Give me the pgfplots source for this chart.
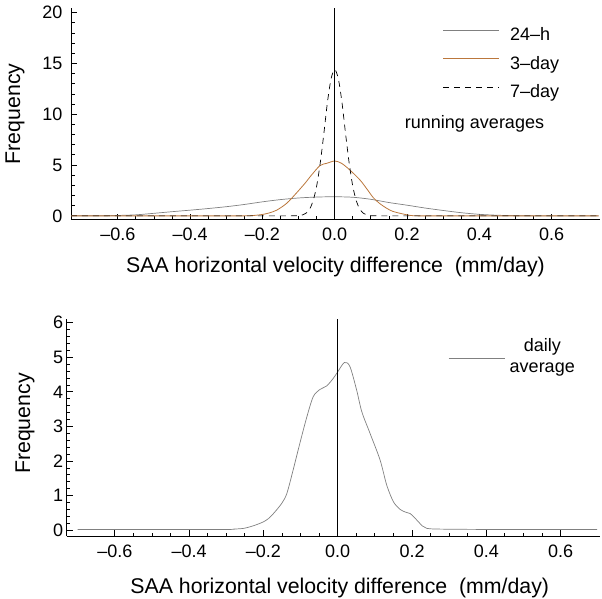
\documentclass[border=0pt]{standalone}
\usepackage{fontspec}
\setmainfont{Liberation Sans}
\usepackage{pgfplots}
\pgfplotsset{compat=1.18}

\definecolor{avggray}{RGB}{128,128,128}
\definecolor{copper}{RGB}{187,119,60}

% Kernel density estimates of the SAA horizontal velocity difference
% 24-h running average
\pgfplotstableread{
x y
-0.73 0.01
-0.65 0.01
-0.60 0.04
-0.55 0.10
-0.50 0.25
-0.45 0.41
-0.40 0.56
-0.35 0.72
-0.30 0.90
-0.25 1.12
-0.20 1.38
-0.15 1.60
-0.10 1.76
-0.05 1.85
 0.00 1.88
 0.05 1.83
 0.10 1.63
 0.15 1.31
 0.20 1.05
 0.25 0.77
 0.30 0.53
 0.35 0.31
 0.40 0.15
 0.45 0.06
 0.50 0.02
 0.55 0.00
 0.73 0.00
}\dayone
% 3-day running average
\pgfplotstableread{
x y
-0.73 0.00
-0.50 0.00
-0.30 0.00
-0.25 0.00
-0.22 0.05
-0.198 0.15
-0.18 0.30
-0.16 0.57
-0.133 1.23
-0.105 2.28
-0.08 3.30
-0.068 3.85
-0.041 4.94
-0.022 5.17
 0.000 5.40
 0.019 5.17
 0.042 4.51
 0.070 3.53
 0.090 2.60
 0.107 1.78
 0.125 1.20
 0.144 0.74
 0.160 0.45
 0.181 0.25
 0.208 0.05
 0.230 0.00
 0.30 0.00
 0.50 0.00
 0.73 0.00
}\daythree
% 7-day running average
\pgfplotstableread{
x y
-0.73 0.00
-0.40 0.00
-0.20 0.00
-0.12 0.00
-0.10 0.02
-0.09 0.08
-0.08 0.24
-0.07 0.63
-0.06 1.45
-0.05 2.92
-0.04 5.20
-0.03 8.10
-0.02 11.20
-0.01 13.50
 0.00 14.40
 0.01 13.50
 0.02 11.20
 0.03 8.10
 0.04 5.20
 0.05 2.92
 0.06 1.45
 0.07 0.63
 0.08 0.24
 0.09 0.08
 0.10 0.02
 0.12 0.00
 0.20 0.00
 0.40 0.00
 0.73 0.00
}\dayseven
% daily average
\pgfplotstableread{
x y
-0.70 0.02
-0.50 0.02
-0.30 0.02
-0.28 0.03
-0.254 0.05
-0.235 0.10
-0.218 0.16
-0.200 0.24
-0.187 0.33
-0.173 0.48
-0.151 0.77
-0.137 1.06
-0.120 1.74
-0.101 2.55
-0.083 3.28
-0.066 3.86
-0.048 4.07
-0.030 4.17
-0.012 4.39
 0.000 4.58
 0.018 4.85
 0.033 4.73
 0.051 4.05
 0.065 3.42
 0.087 2.80
 0.114 2.03
 0.132 1.30
 0.150 0.82
 0.168 0.60
 0.183 0.52
 0.195 0.48
 0.213 0.29
 0.228 0.12
 0.240 0.05
 0.275 0.03
 0.40 0.02
 0.55 0.02
 0.698 0.02
}\daily

\pgfplotsset{
  freqaxis/.style={
    scale only axis,
    axis x line*=bottom,
    axis y line*=left,
    axis line style={black, line width=0.8pt},
    tick style={black, line width=0.8pt},
    major tick length=6pt,
    minor tick length=3.5pt,
    tick align=inside,
    xtick={-0.6,-0.4,-0.2,0,0.2,0.4,0.6},
    xticklabels={–0.6,–0.4,–0.2,0.0,0.2,0.4,0.6},
    minor x tick num=3,
    minor y tick num=4,
    ticklabel style={font=\fontsize{18}{21}\selectfont},
    xticklabel style={yshift=-5pt},
    label style={font=\fontsize{21.3}{25}\selectfont},
    xlabel={SAA horizontal velocity difference\ \ (mm/day)},
    ylabel={Frequency},
    legend style={draw=none, fill=none, inner sep=0pt, outer sep=0pt,
      font=\fontsize{18}{20.3}\selectfont,
      nodes={inner sep=0pt, text height=13pt, text depth=4pt},
      row sep=11.5pt, column sep=11pt},
    legend cell align=left,
    legend image code/.code={\draw[#1] (0pt,6pt) -- (55.6pt,6pt);},
  }
}

\begin{document}
\begin{tikzpicture}
\useasboundingbox (0pt,0pt) rectangle (602pt,-598pt);

% running averages
\begin{axis}[freqaxis,
  at={(71pt,-219.5pt)}, anchor=south west,
  width=529pt, height=211.2pt,
  xmin=-0.7295, xmax=0.7339,
  ymin=-0.36, ymax=20.43,
  ytick={0,5,10,15,20},
  yticklabels={0,5,10,15,20},
  yticklabel style={xshift=-5pt},
  xlabel style={at={(axis description cs:0.5,-0.225)}, anchor=center},
  ylabel style={at={(axis description cs:-0.1059,0.5)}, anchor=center},
  legend style={at={(axis description cs:0.7026,0.908)}, anchor=north west},
]
\addplot[avggray, line width=0.7pt, smooth] table {\dayone};
\addlegendentry{24–h}
\addplot[copper, line width=0.8pt, smooth] table {\daythree};
\addlegendentry{3–day}
\addplot[black, line width=0.7pt, dash pattern=on 6pt off 5pt, smooth] table {\dayseven};
\addlegendentry{7–day}
\addplot[black, line width=0.8pt, forget plot] coordinates {(0,-0.36) (0,20.43)};
\node[font=\fontsize{18}{21}\selectfont] at (axis description cs:0.7628,0.4508) {running averages};
\end{axis}

% daily average
\begin{axis}[freqaxis,
  at={(66.7pt,-536pt)}, anchor=south west,
  width=533.3pt, height=216.7pt,
  xmin=-0.7295, xmax=0.706,
  ymin=-0.17, ymax=6.1,
  ytick={0,1,2,3,4,5,6},
  yticklabels={0,1,2,3,4,5,6},
  xlabel style={at={(axis description cs:0.512,-0.238)}, anchor=center},
  ylabel style={at={(axis description cs:-0.0782,0.519)}, anchor=center},
  legend style={at={(axis description cs:0.7156,0.824)}, anchor=west,
    column sep=4pt, nodes={text height=, text depth=}},
  legend image code/.code={\draw[#1] (0pt,-0.8pt) -- (56.7pt,-0.8pt);},
]
\addplot[avggray, line width=0.7pt, smooth] table {\daily};
\addlegendentry{\fontsize{18}{21}\selectfont\begin{tabular}{@{}c@{}}daily\\average\end{tabular}}
\addplot[black, line width=0.8pt, forget plot] coordinates {(0,-0.17) (0,6.1)};
\end{axis}
\end{tikzpicture}
\end{document}
